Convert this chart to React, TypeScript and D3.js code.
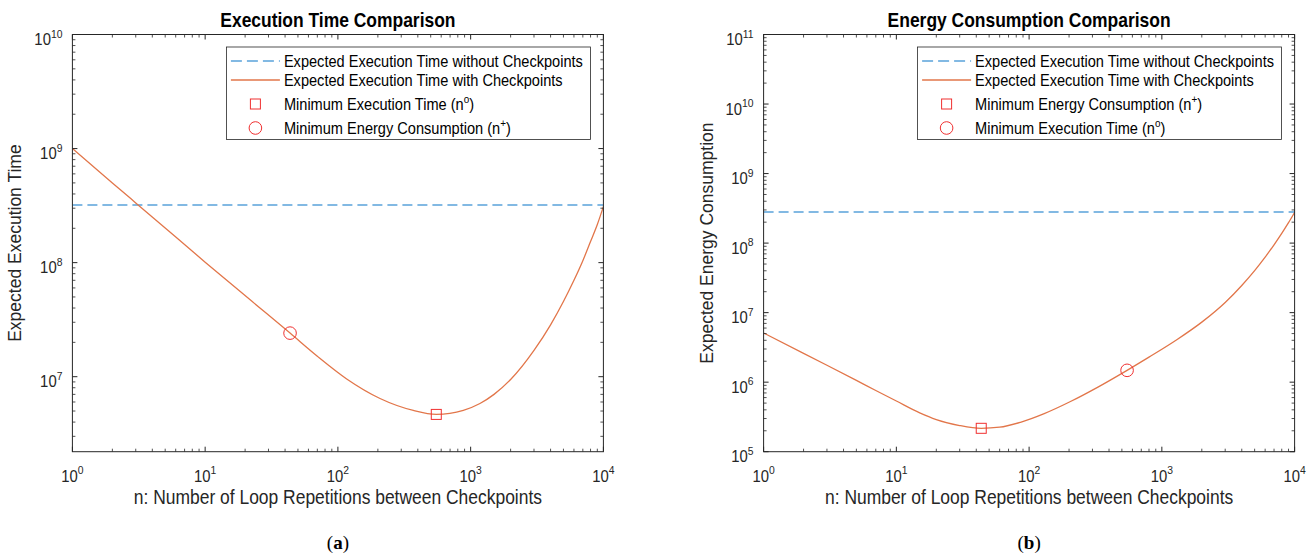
import React from 'react';
import * as d3 from 'd3';

// ---------- data ----------
const xTickExps = [0, 1, 2, 3, 4];
const leftYTickExps = [7, 8, 9, 10];
const rightYTickExps = [5, 6, 7, 8, 9, 10, 11];

// Panel (a): expected execution time
const timeN = [1, 2, 3, 5, 10, 22.4, 43.6, 70, 116.5, 207.6, 370, 551, 881, 1175, 1500, 2000, 3000, 4000, 5000, 6000, 7000, 8000, 9000, 10000];
const timeWith = [1e9, 5e8, 3.34e8, 2.01e8, 1.01e8, 4.6e7, 2.41e7, 1.51e7, 9.55e6, 6.44e6, 5.06e6, 4.67e6, 5.07e6, 5.82e6, 7.0e6, 9.44e6, 1.7e7, 2.85e7, 4.56e7, 7.0e7, 1.04e8, 1.53e8, 2.16e8, 3.1e8];
const timeWithout = 3.2e8;
const timeMinN = 551; // n°
const timeMinVal = 4.67e6;
const timeAtEnergyN = 43.6; // n+
const timeAtEnergyVal = 2.41e7;

// Panel (b): expected energy consumption
const energyN = [1, 2, 3, 5, 7, 10, 15, 20, 30, 43.6, 60, 86, 130, 205, 330, 547, 800, 1304, 2000, 3000, 4000, 5000, 6000, 7000, 8000, 9000, 10000];
const energyWith = [5.1e6, 2.6e6, 1.75e6, 1.06e6, 7.6e5, 5.36e5, 3.62e5, 2.9e5, 2.38e5, 2.17e5, 2.25e5, 2.65e5, 3.53e5, 5.27e5, 8.5e5, 1.48e6, 2.29e6, 4.11e6, 7.3e6, 1.4e7, 2.46e7, 4.02e7, 6.28e7, 9.46e7, 1.38e8, 1.97e8, 2.76e8];
const energyWithout = 2.8e8;
const energyMinN = 43.6; // n+
const energyMinVal = 2.17e5;
const energyAtTimeN = 547; // n°
const energyAtTimeVal = 1.48e6;

const legendA = [
  'Expected Execution Time without Checkpoints',
  'Expected Execution Time with Checkpoints',
  'Minimum Execution Time (n',
  'Minimum Energy Consumption (n',
];
const legendB = [
  'Expected Execution Time without Checkpoints',
  'Expected Execution Time with Checkpoints',
  'Minimum Energy Consumption (n',
  'Minimum Execution Time (n',
];

// ---------- styles ----------
const AX = '#262626';
const BLUE = '#5aa2da';
const ORANGE = '#e2764a';
const RED = '#f03030';
const FONT = "'Liberation Sans', Arial, Helvetica, sans-serif";
const SQ = 0.9; // horizontal condensing of the Helvetica-like text

type PanelProps = {
  left: number;
  right: number;
  top: number;
  bottom: number;
  yDomain: [number, number];
  yTickExps: number[];
  xs: number[];
  ys: number[];
  flat: number;
  sqN: number; sqV: number;
  ciN: number; ciV: number;
  title: string;
  ylabel: string;
  legend: string[];
  sqSup: string;
  ciSup: string;
  tag: string;
};

function Pow({ x, y, exp, anchor }: { x: number; y: number; exp: number; anchor: string }) {
  return (
    <text transform={`translate(${x},${y}) scale(${SQ},1)`} textAnchor={anchor} fontFamily={FONT} fontSize={16.5} fill={AX}>
      <tspan>10</tspan>
      <tspan dy={-7.5} fontSize={11.5}>{exp}</tspan>
    </text>
  );
}

function Panel(p: PanelProps) {
  const x = d3.scaleLog().domain([1, 1e4]).range([p.left, p.right]);
  const y = d3.scaleLog().domain(p.yDomain).range([p.bottom, p.top]);
  const line = d3
    .line<number>()
    .x((_, i) => x(p.xs[i]))
    .y((d) => y(d))
    .curve(d3.curveMonotoneX);
  const clipId = 'clip-' + p.tag;

  const xMinor: number[] = [];
  for (let d = 0; d < 4; d++) for (let m = 2; m <= 9; m++) xMinor.push(m * Math.pow(10, d));
  const yMinor: number[] = [];
  const lo = Math.floor(Math.log10(p.yDomain[0]));
  const hi = Math.ceil(Math.log10(p.yDomain[1]));
  for (let d = lo; d < hi; d++)
    for (let m = 2; m <= 9; m++) {
      const v = m * Math.pow(10, d);
      if (v > p.yDomain[0] && v < p.yDomain[1]) yMinor.push(v);
    }
  const maj = 5, mnr = 3;
  const cx = (p.left + p.right) / 2;
  const cy = (p.top + p.bottom) / 2;

  const lgR = p.right - 13;
  const lgL = p.right - 377;
  const lgT = 47;
  const lgB = 139.5;
  const rows = [61, 80, 104, 128];
  const sx0 = lgL + 4.5, sx1 = lgL + 53.5, smx = lgL + 29;
  const tx = lgL + 57.5;

  return (
    <g>
      <defs>
        <clipPath id={clipId}>
          <rect x={p.left} y={p.top} width={p.right - p.left} height={p.bottom - p.top} />
        </clipPath>
      </defs>
      <text transform={`translate(${cx},27) scale(${SQ},1)`} textAnchor="middle" fontFamily={FONT} fontWeight="bold" fontSize={19.4} fill="#000">{p.title}</text>

      {/* data */}
      <g clipPath={`url(#${clipId})`}>
        <line x1={p.left} x2={p.right} y1={y(p.flat)} y2={y(p.flat)} stroke={BLUE} strokeWidth={1.6} strokeDasharray="10,5" />
        <path d={line(p.ys) || ''} fill="none" stroke={ORANGE} strokeWidth={1.3} />
      </g>
      <rect x={x(p.sqN) - 5} y={y(p.sqV) - 5} width={10} height={10} fill="none" stroke={RED} strokeWidth={1} />
      <circle cx={x(p.ciN)} cy={y(p.ciV)} r={6.3} fill="none" stroke={RED} strokeWidth={1} />

      {/* box */}
      <rect x={p.left} y={p.top} width={p.right - p.left} height={p.bottom - p.top} fill="none" stroke={AX} strokeWidth={1} />

      {/* x ticks */}
      {xTickExps.map((e) => {
        const px = x(Math.pow(10, e));
        return (
          <g key={'xt' + e}>
            <line x1={px} x2={px} y1={p.bottom} y2={p.bottom - maj} stroke={AX} />
            <line x1={px} x2={px} y1={p.top} y2={p.top + maj} stroke={AX} />
            <Pow x={px} y={p.bottom + 30} exp={e} anchor="middle" />
          </g>
        );
      })}
      {xMinor.map((v) => {
        const px = x(v);
        return (
          <g key={'xm' + v}>
            <line x1={px} x2={px} y1={p.bottom} y2={p.bottom - mnr} stroke={AX} strokeWidth={0.8} />
            <line x1={px} x2={px} y1={p.top} y2={p.top + mnr} stroke={AX} strokeWidth={0.8} />
          </g>
        );
      })}
      {/* y ticks */}
      {p.yTickExps.map((e) => {
        const py = y(Math.pow(10, e));
        return (
          <g key={'yt' + e}>
            <line x1={p.left} x2={p.left + maj} y1={py} y2={py} stroke={AX} />
            <line x1={p.right} x2={p.right - maj} y1={py} y2={py} stroke={AX} />
            <Pow x={p.left - 10} y={py + 10.5} exp={e} anchor="end" />
          </g>
        );
      })}
      {yMinor.map((v) => {
        const py = y(v);
        return (
          <g key={'ym' + v}>
            <line x1={p.left} x2={p.left + mnr} y1={py} y2={py} stroke={AX} strokeWidth={0.8} />
            <line x1={p.right} x2={p.right - mnr} y1={py} y2={py} stroke={AX} strokeWidth={0.8} />
          </g>
        );
      })}

      {/* axis labels */}
      <text transform={`translate(${cx},${p.bottom + 52}) scale(${SQ},1)`} textAnchor="middle" fontFamily={FONT} fontSize={19.4} fill={AX}>
        n: Number of Loop Repetitions between Checkpoints
      </text>
      <text
        transform={`translate(${p.left - 57},${cy}) rotate(-90)`}
        textAnchor="middle"
        dominantBaseline="central"
        fontFamily={FONT}
        fontSize={17.5}
        fill={AX}
      >
        {p.ylabel}
      </text>

      {/* legend */}
      <rect x={lgL} y={lgT} width={lgR - lgL} height={lgB - lgT} fill="#fff" stroke={AX} strokeWidth={0.8} />
      <line x1={sx0} x2={sx1} y1={rows[0]} y2={rows[0]} stroke={BLUE} strokeWidth={1.6} strokeDasharray="11,5" />
      <line x1={sx0} x2={sx1} y1={rows[1]} y2={rows[1]} stroke={ORANGE} strokeWidth={1.3} />
      <rect x={smx - 5} y={rows[2] - 5} width={10} height={10} fill="none" stroke={RED} strokeWidth={1} />
      <circle cx={smx} cy={rows[3]} r={6.3} fill="none" stroke={RED} strokeWidth={1} />
      {p.legend.map((t, i) => (
        <text key={'lg' + i} transform={`translate(${tx},${rows[i] + 5.5}) scale(${SQ},1)`} fontFamily={FONT} fontSize={16.2} fill="#000">
          {t}
          {i === 2 ? (
            <>
              <tspan dy={-6.5} fontSize={11}>{p.sqSup}</tspan>
              <tspan dy={6.5}>)</tspan>
            </>
          ) : null}
          {i === 3 ? (
            <>
              <tspan dy={-6.5} fontSize={11}>{p.ciSup}</tspan>
              <tspan dy={6.5}>)</tspan>
            </>
          ) : null}
        </text>
      ))}

      {/* sub-figure tag */}
      <text x={cx} y={549} textAnchor="middle" fontFamily="'Liberation Serif', 'DejaVu Serif', serif" fontSize={19} fill="#000">
        (<tspan fontWeight="bold">{p.tag}</tspan>)
      </text>
    </g>
  );
}

export default function App() {
  return (
    <svg width={1315} height={555} style={{ position: 'absolute', left: 0, top: 0, background: '#fff' }}>
      <rect x={0} y={0} width={1315} height={555} fill="#fff" />
      <Panel
        left={72.4}
        right={603.4}
        top={34.5}
        bottom={451.7}
        yDomain={[2.2e6, 1e10]}
        yTickExps={leftYTickExps}
        xs={timeN}
        ys={timeWith}
        flat={timeWithout}
        sqN={timeMinN}
        sqV={timeMinVal}
        ciN={timeAtEnergyN}
        ciV={timeAtEnergyVal}
        title="Execution Time Comparison"
        ylabel="Expected Execution Time"
        legend={legendA}
        sqSup="o"
        ciSup="+"
        tag="a"
      />
      <Panel
        left={763.6}
        right={1294.6}
        top={34.5}
        bottom={451.7}
        yDomain={[1e5, 1e11]}
        yTickExps={rightYTickExps}
        xs={energyN}
        ys={energyWith}
        flat={energyWithout}
        sqN={energyMinN}
        sqV={energyMinVal}
        ciN={energyAtTimeN}
        ciV={energyAtTimeVal}
        title="Energy Consumption Comparison"
        ylabel="Expected Energy Consumption"
        legend={legendB}
        sqSup="+"
        ciSup="o"
        tag="b"
      />
    </svg>
  );
}
